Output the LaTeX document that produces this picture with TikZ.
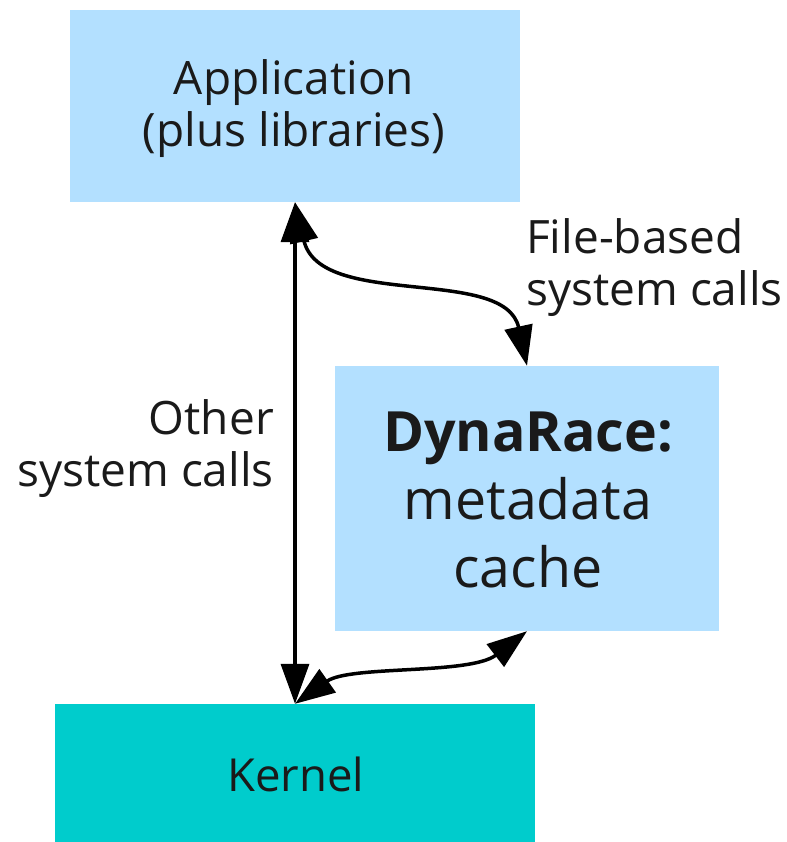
\documentclass[tikz,border=0pt]{standalone}
\usepackage{fontspec}
\setmainfont{Open Sans}
\usetikzlibrary{arrows.meta}
\definecolor{boxblue}{RGB}{179,224,255}
\definecolor{kernelteal}{RGB}{0,204,204}
\definecolor{txt}{RGB}{26,26,26}
\begin{document}
\begin{tikzpicture}[x=1pt,y=-1pt,
  box/.style={draw=none,inner sep=0pt},
  boxtext/.style={inner sep=0pt,align=center,text=txt},
  lbl/.style={inner sep=0pt,text=txt,font=\fontsize{46}{52}\selectfont},
  conn/.style={line width=3.5pt,{Triangle[length=40pt,width=28pt]}-{Triangle[length=40pt,width=28pt]}}]
\useasboundingbox (0,0) rectangle (786,842);
\node[box,fill=boxblue,minimum width=450pt,minimum height=192pt] (app) at (295,106) {};
\node[boxtext,font=\fontsize{46}{52}\selectfont] (apptext) at (294,109) {Application\\(plus libraries)};
\node[box,fill=boxblue,minimum width=384pt,minimum height=265pt] (dyn) at (527,498.5) {};
\node[boxtext,font=\fontsize{55.5}{68}\selectfont] (dyntext) at (528,500) {\textbf{DynaRace:}\\metadata\\cache};
\node[box,fill=kernelteal,minimum width=480pt,minimum height=138pt] (kern) at (295,773) {};
\node[boxtext,font=\fontsize{45.5}{52}\selectfont] (kerntext) at (296,774.5) {Kernel};
\node[lbl,anchor=west,align=left] (fb) at (526,268) {File-based\\system calls};
\node[lbl,anchor=east,align=right] (osc) at (274,449) {Other\\system calls};
\draw[conn] (app.south) -- (kern.north);
\draw[conn] (app.south) .. controls (320,310) and (505,265) .. (dyn.north);
\draw[conn] (kern.north) .. controls (350,665) and (470,675) .. (dyn.south);
\end{tikzpicture}
\end{document}
